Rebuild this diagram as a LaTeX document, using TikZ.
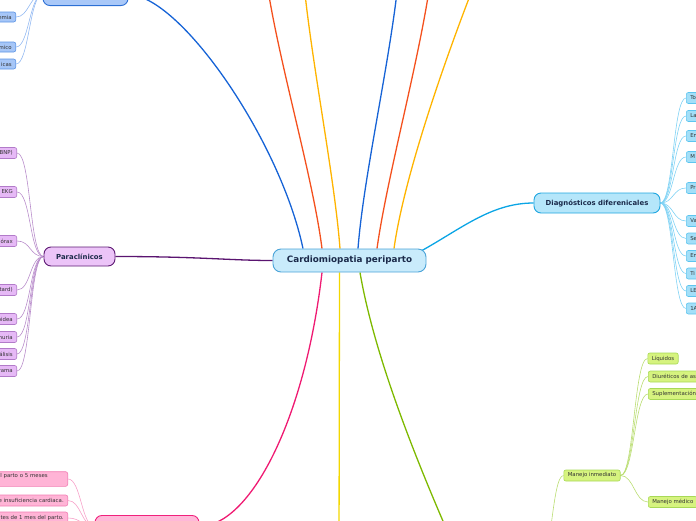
\documentclass[tikz,border=0pt]{standalone}
\usepackage{fontspec}
\setmainfont{DejaVu Sans}
\pgfdeclarelayer{bg}
\pgfsetlayers{bg,main}
\definecolor{ink}{HTML}{1B2A4A}
\definecolor{leafink}{HTML}{333333}
\definecolor{rootbg}{HTML}{C9EBFB}
\definecolor{rootbd}{HTML}{4AA3D8}
\definecolor{genbg}{HTML}{A9C8F8}
\definecolor{genbd}{HTML}{2C6FD4}
\definecolor{genleaf}{HTML}{A6C6F7}
\definecolor{genleafbd}{HTML}{5B93E5}
\definecolor{genlk}{HTML}{93B9F2}
\definecolor{parabg}{HTML}{ECC4F8}
\definecolor{parabd}{HTML}{5E1A74}
\definecolor{paraleaf}{HTML}{E6B9F6}
\definecolor{paraleafbd}{HTML}{B27BC9}
\definecolor{paralk}{HTML}{B98DCB}
\definecolor{diagbg}{HTML}{B5E6FA}
\definecolor{diagbd}{HTML}{1FA6E0}
\definecolor{diagleaf}{HTML}{A3DFF8}
\definecolor{diagleafbd}{HTML}{5DC5EF}
\definecolor{diaglk}{HTML}{7FD2F4}
\definecolor{pinkbg}{HTML}{FFB8D8}
\definecolor{pinkbd}{HTML}{F0217C}
\definecolor{pinkleaf}{HTML}{FFB4D6}
\definecolor{pinkleafbd}{HTML}{F27DB3}
\definecolor{pinklk}{HTML}{F7A0C8}
\definecolor{limeleaf}{HTML}{D6F37F}
\definecolor{limeleafbd}{HTML}{A8D957}
\definecolor{limelk}{HTML}{BADD72}
\definecolor{lkblue}{HTML}{1663D6}
\definecolor{lkorange}{HTML}{F4511E}
\definecolor{lkamber}{HTML}{FFB400}
\definecolor{lkcyan}{HTML}{0BA5E5}
\definecolor{lkpurple}{HTML}{5A1470}
\definecolor{lkpink}{HTML}{EF1A72}
\definecolor{lkyellow}{HTML}{F3D700}
\definecolor{lkgreen}{HTML}{7EB900}
\tikzset{
  rootbox/.style={rectangle,rounded corners=8pt,draw=rootbd,line width=0.9pt,
    fill=rootbg,text=ink,font=\bfseries\fontsize{8.8}{10}\selectfont,
    minimum width=153pt,minimum height=23pt,inner sep=0pt},
  topicbox/.style={rectangle,rounded corners=7pt,line width=0.9pt,text=ink,
    font=\bfseries\fontsize{6.9}{8}\selectfont,minimum height=20pt,inner sep=0pt},
  leafbox/.style={rectangle,rounded corners=2pt,line width=0.6pt,text=leafink,
    font=\fontsize{5.4}{6.5}\selectfont,minimum height=11pt,inner xsep=4pt,inner ysep=2pt},
  leftcut/.style={leafbox,anchor=east,text width=70pt,align=right},
  rightcut/.style={leafbox,anchor=west,text width=50pt,align=left},
  mainlink/.style={line width=1.3pt},
  leaflink/.style={line width=0.6pt},
}

\begin{document}
\begin{tikzpicture}[x=1pt,y=-1pt]
  \useasboundingbox (0,0) rectangle (696,520);
  \clip (0,0) rectangle (696,520);
  \node[rootbox] (root) at (349.5,260.5) {Cardiomiopatia periparto};
  \node[topicbox,fill=genbg,draw=genbd,minimum width=85pt,minimum height=22pt,anchor=south] (gen) at (85.5,6) {};
  \node[topicbox,fill=diagbg,draw=diagbd,minimum width=126pt] (diag) at (597,203) {Diagnósticos diferenicales};
  \node[topicbox,fill=parabg,draw=parabd,minimum width=71pt,minimum height=19pt] (para) at (79.5,256.5) {Paraclínicos};
  \node[topicbox,fill=pinkbg,draw=pinkbd,minimum width=104pt,minimum height=22pt,anchor=north] (pink) at (147,515) {};

  \node[leftcut,fill=genleaf,draw=genleafbd,minimum height=10pt] (g1) at (16,17) {emia};
  \node[leftcut,fill=genleaf,draw=genleafbd,minimum height=10pt] (g2) at (16,47) {mico};
  \node[leftcut,fill=genleaf,draw=genleafbd,minimum height=10pt] (g3) at (16,64) {icas};

  \node[leftcut,fill=paraleaf,draw=paraleafbd] (p1) at (17,153) {BNP)};
  \node[leftcut,fill=paraleaf,draw=paraleafbd] (p2) at (17,192) {EKG};
  \node[leftcut,fill=paraleaf,draw=paraleafbd] (p3) at (17,241) {órax};
  \node[leftcut,fill=paraleaf,draw=paraleafbd] (p4) at (17,290) {tard)};
  \node[leftcut,fill=paraleaf,draw=paraleafbd] (p5) at (17,319) {oidea};
  \node[leftcut,fill=paraleaf,draw=paraleafbd] (p6) at (17,337) {muria};
  \node[leftcut,fill=paraleaf,draw=paraleafbd] (p7) at (17,354) {álisis};
  \node[leftcut,fill=paraleaf,draw=paraleafbd] (p8) at (17,371) {rama};

  \node[rightcut,fill=diagleaf,draw=diagleafbd] (d1) at (686,98) {To};
  \node[rightcut,fill=diagleaf,draw=diagleafbd] (d2) at (686,116) {La};
  \node[rightcut,fill=diagleaf,draw=diagleafbd] (d3) at (686,136) {En};
  \node[rightcut,fill=diagleaf,draw=diagleafbd] (d4) at (686,157) {M};
  \node[rightcut,fill=diagleaf,draw=diagleafbd] (d5) at (686,188) {Pr};
  \node[rightcut,fill=diagleaf,draw=diagleafbd] (d6) at (686,221) {Va};
  \node[rightcut,fill=diagleaf,draw=diagleafbd] (d7) at (686,238.5) {Se};
  \node[rightcut,fill=diagleaf,draw=diagleafbd] (d8) at (686,256) {En};
  \node[rightcut,fill=diagleaf,draw=diagleafbd] (d9) at (686,273.5) {Ti};
  \node[rightcut,fill=diagleaf,draw=diagleafbd] (d10) at (686,291) {LE};
  \node[rightcut,fill=diagleaf,draw=diagleafbd] (d11) at (686,308.5) {1A};

  \node[leftcut,fill=pinkleaf,draw=pinkleafbd] (k1) at (68,479) {l parto o 5 meses\hbox to 16pt{}\\\mbox{}};
  \node[leftcut,fill=pinkleaf,draw=pinkleafbd] (k2) at (68,500.5) {e insuficiencia cardiaca.};
  \node[leftcut,fill=pinkleaf,draw=pinkleafbd,minimum height=12pt] (k3) at (68,518) {tes de 1 mes del parto.};

  \node[leafbox,fill=limeleaf,draw=limeleafbd] (mi) at (592,475.5) {Manejo inmediato};
  \node[leafbox,fill=limeleaf,draw=limeleafbd,anchor=west] (m1) at (647.5,358.5) {Líquidos};
  \node[rightcut,fill=limeleaf,draw=limeleafbd] (m2) at (648,376.5) {Diuréticos de as};
  \node[rightcut,fill=limeleaf,draw=limeleafbd] (m3) at (648,394) {Suplementación};
  \node[leafbox,fill=limeleaf,draw=limeleafbd,anchor=west] (m4) at (648,502) {Manejo médico};

  \coordinate (o1) at (264,-40);
  \coordinate (o2) at (302,-40);
  \coordinate (o3) at (400,-40);
  \coordinate (o4) at (433,-40);
  \coordinate (o5) at (482,-35);
  \coordinate (o6) at (339,560);
  \coordinate (o7) at (460,560);
  \coordinate (gp) at (540,565);

  \begin{pgfonlayer}{bg}
    \clip (0,0) rectangle (696,520);
    \draw[mainlink,draw=lkblue] ([xshift=-46.5pt]root.north) .. controls (280,140) and (180,-5) .. (gen.east);
    \draw[mainlink,draw=lkorange] ([xshift=-27.5pt]root.north) .. controls (312,170) and (272,40) .. (o1);
    \draw[mainlink,draw=lkamber] ([xshift=-9.5pt]root.north) .. controls (334,170) and (307,40) .. (o2);
    \draw[mainlink,draw=lkblue] ([xshift=8.5pt]root.north) .. controls (364,170) and (395,40) .. (o3);
    \draw[mainlink,draw=lkorange] ([xshift=27.5pt]root.north) .. controls (388,170) and (425,40) .. (o4);
    \draw[mainlink,draw=lkamber] ([xshift=44.5pt]root.north) .. controls (405,170) and (452,40) .. (o5);
    \draw[mainlink,draw=lkcyan] ([xshift=-10pt,yshift=-5pt]root.north east) .. controls (460,230) and (490,203) .. (diag.west);
    \draw[mainlink,draw=lkpurple] (para.east) .. controls (200,256.5) and (230,260.5) .. (root.west);
    \draw[mainlink,draw=lkpink] ([xshift=-27.5pt]root.south) .. controls (305,420) and (250,526) .. (pink.east);
    \draw[mainlink,draw=lkyellow] ([xshift=-10pt]root.south) -- (o6);
    \draw[mainlink,draw=lkgreen] ([xshift=10.5pt]root.south) .. controls (375,360) and (420,470) .. (o7);

    \draw[leaflink,draw=genlk] (gen.west) .. controls +(-13,0) and +(13,0) .. (g1.east);
    \draw[leaflink,draw=genlk] (gen.west) .. controls +(-13,0) and +(13,0) .. (g2.east);
    \draw[leaflink,draw=genlk] (gen.west) .. controls +(-13,0) and +(13,0) .. (g3.east);

    \draw[leaflink,draw=paralk] (para.west) .. controls +(-14,0) and +(14,0) .. (p1.east);
    \draw[leaflink,draw=paralk] (para.west) .. controls +(-14,0) and +(14,0) .. (p2.east);
    \draw[leaflink,draw=paralk] (para.west) .. controls +(-14,0) and +(14,0) .. (p3.east);
    \draw[leaflink,draw=paralk] (para.west) .. controls +(-14,0) and +(14,0) .. (p4.east);
    \draw[leaflink,draw=paralk] (para.west) .. controls +(-14,0) and +(14,0) .. (p5.east);
    \draw[leaflink,draw=paralk] (para.west) .. controls +(-14,0) and +(14,0) .. (p6.east);
    \draw[leaflink,draw=paralk] (para.west) .. controls +(-14,0) and +(14,0) .. (p7.east);
    \draw[leaflink,draw=paralk] (para.west) .. controls +(-14,0) and +(14,0) .. (p8.east);

    \draw[leaflink,draw=diaglk] (diag.east) .. controls +(13,0) and +(-13,0) .. (d1.west);
    \draw[leaflink,draw=diaglk] (diag.east) .. controls +(13,0) and +(-13,0) .. (d2.west);
    \draw[leaflink,draw=diaglk] (diag.east) .. controls +(13,0) and +(-13,0) .. (d3.west);
    \draw[leaflink,draw=diaglk] (diag.east) .. controls +(13,0) and +(-13,0) .. (d4.west);
    \draw[leaflink,draw=diaglk] (diag.east) .. controls +(13,0) and +(-13,0) .. (d5.west);
    \draw[leaflink,draw=diaglk] (diag.east) .. controls +(13,0) and +(-13,0) .. (d6.west);
    \draw[leaflink,draw=diaglk] (diag.east) .. controls +(13,0) and +(-13,0) .. (d7.west);
    \draw[leaflink,draw=diaglk] (diag.east) .. controls +(13,0) and +(-13,0) .. (d8.west);
    \draw[leaflink,draw=diaglk] (diag.east) .. controls +(13,0) and +(-13,0) .. (d9.west);
    \draw[leaflink,draw=diaglk] (diag.east) .. controls +(13,0) and +(-13,0) .. (d10.west);
    \draw[leaflink,draw=diaglk] (diag.east) .. controls +(13,0) and +(-13,0) .. (d11.west);

    \draw[leaflink,draw=pinklk] (pink.west) .. controls +(-13,0) and +(13,0) .. (k1.east);
    \draw[leaflink,draw=pinklk] (pink.west) .. controls +(-13,0) and +(13,0) .. (k2.east);
    \draw[leaflink,draw=pinklk] (pink.west) .. controls +(-13,0) and +(13,0) .. (k3.east);

    \draw[leaflink,draw=limelk] (gp) .. controls +(11.5,0) and +(-11.5,0) .. (mi.west);
    \draw[leaflink,draw=limelk] (mi.east) .. controls +(13.5,0) and +(-13.5,0) .. (m1.west);
    \draw[leaflink,draw=limelk] (mi.east) .. controls +(13.5,0) and +(-13.5,0) .. (m2.west);
    \draw[leaflink,draw=limelk] (mi.east) .. controls +(13.5,0) and +(-13.5,0) .. (m3.west);
    \draw[leaflink,draw=limelk] (mi.east) .. controls +(13.5,0) and +(-13.5,0) .. (m4.west);
  \end{pgfonlayer}
\end{tikzpicture}
\end{document}
